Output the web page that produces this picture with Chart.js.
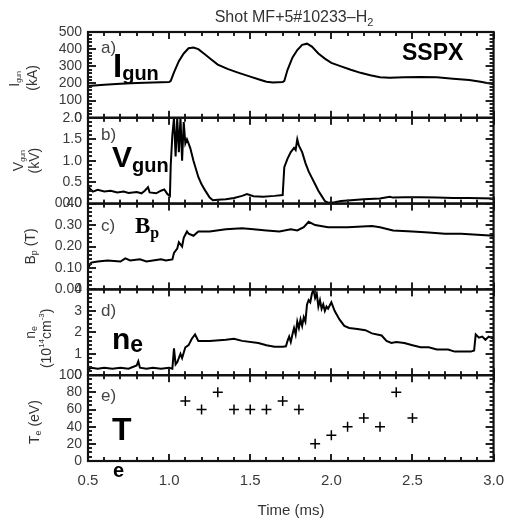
<!DOCTYPE html>
<html><head><meta charset="utf-8">
<script src="https://cdn.jsdelivr.net/npm/chart.js@4/dist/chart.umd.min.js"></script>
<style>html,body{margin:0;padding:0;background:#fff;}#wrap{position:relative;width:515px;height:527px;}</style>
</head><body><div id="wrap"><canvas id="c" width="515" height="527"></canvas></div>
<script>
// ---- data ----
const xTicks = [0.5, 1.0, 1.5, 2.0, 2.5, 3.0];

const tA = [0.50,0.60,0.70,0.80,0.90,1.00,1.01,1.03,1.06,1.09,1.12,1.15,1.18,1.22,1.26,1.30,1.36,1.42,1.50,1.56,1.60,1.64,1.70,1.71,1.73,1.76,1.79,1.82,1.85,1.88,1.92,1.96,2.00,2.06,2.12,2.18,2.24,2.30,2.36,2.45,2.55,2.65,2.75,2.85,2.92,3.00];
const iGun = [185,192,198,203,206,208,215,265,330,375,405,410,400,370,340,310,285,265,240,222,210,206,208,215,280,350,395,425,432,415,375,345,320,300,280,262,248,236,234,236,238,236,228,220,210,195];

const tB = [0.50,0.51,0.53,0.56,0.60,0.64,0.68,0.72,0.75,0.80,0.83,0.85,0.87,0.88,0.92,0.95,0.97,0.99,1.005,1.01,1.02,1.03,1.04,1.05,1.06,1.07,1.08,1.09,1.10,1.11,1.13,1.15,1.18,1.20,1.22,1.25,1.27,1.30,1.35,1.40,1.45,1.48,1.52,1.58,1.65,1.70,1.71,1.73,1.75,1.77,1.78,1.79,1.80,1.82,1.84,1.86,1.88,1.90,1.92,1.94,1.96,1.98,2.02,2.06,2.12,2.20,2.30,2.36,2.38,2.45,2.55,2.65,2.75,2.85,3.00];
const vGun = [0.45,0.35,0.28,0.32,0.28,0.30,0.26,0.28,0.25,0.27,0.24,0.30,0.38,0.26,0.24,0.30,0.33,0.22,0.18,0.9,1.6,2.0,1.1,2.0,1.2,2.0,1.0,1.9,1.4,1.5,1.3,1.0,0.62,0.45,0.32,0.14,0.08,0.09,0.10,0.13,0.18,0.22,0.17,0.16,0.18,0.20,0.85,1.05,1.2,1.3,1.25,1.5,1.35,1.2,0.95,0.75,0.6,0.45,0.3,0.18,0.06,0.02,0.03,0.06,0.08,0.10,0.12,0.16,0.14,0.15,0.15,0.14,0.13,0.13,0.12];

const tC = [0.50,0.52,0.56,0.62,0.70,0.73,0.76,0.82,0.86,0.90,0.95,0.98,1.02,1.03,1.05,1.06,1.08,1.09,1.11,1.12,1.15,1.18,1.25,1.35,1.45,1.52,1.60,1.68,1.75,1.79,1.83,1.86,1.90,1.98,2.10,2.25,2.30,2.38,2.50,2.60,2.70,2.80,2.90,3.00];
const bP = [0.10,0.125,0.13,0.135,0.13,0.145,0.135,0.14,0.13,0.135,0.14,0.135,0.14,0.17,0.19,0.22,0.20,0.24,0.27,0.26,0.25,0.27,0.27,0.28,0.285,0.28,0.275,0.27,0.28,0.275,0.29,0.315,0.30,0.29,0.29,0.295,0.29,0.275,0.27,0.265,0.26,0.26,0.255,0.25];

const tD = [0.50,0.52,0.56,0.60,0.65,0.70,0.75,0.80,0.81,0.82,0.86,0.90,0.95,1.00,1.02,1.03,1.04,1.05,1.07,1.08,1.10,1.12,1.14,1.16,1.18,1.25,1.35,1.40,1.45,1.55,1.60,1.65,1.70,1.72,1.73,1.74,1.75,1.76,1.77,1.78,1.79,1.80,1.81,1.82,1.83,1.84,1.85,1.86,1.87,1.88,1.89,1.90,1.91,1.92,1.93,1.94,1.95,1.96,1.97,1.98,2.00,2.02,2.05,2.08,2.11,2.16,2.21,2.25,2.31,2.34,2.37,2.40,2.45,2.50,2.55,2.60,2.65,2.72,2.76,2.86,2.88,2.89,2.91,2.93,2.95,2.97,3.00];
const nE = [0.25,0.35,0.3,0.35,0.3,0.35,0.3,0.45,0.65,0.35,0.3,0.35,0.3,0.35,0.3,1.25,0.5,0.6,1.0,0.8,1.3,1.4,1.7,1.9,1.6,1.6,1.65,1.7,1.6,1.5,1.4,1.33,1.33,1.35,1.6,1.8,1.55,1.9,2.2,1.9,2.5,2.2,2.6,2.3,2.7,2.5,3.3,3.5,3.4,3.8,4.0,3.6,3.8,3.2,3.5,3.1,3.3,3.0,3.2,3.1,3.4,3.0,2.6,2.3,2.2,2.15,2.1,1.95,1.85,1.6,1.5,1.55,1.5,1.4,1.3,1.3,1.2,1.2,1.1,1.1,1.15,1.9,1.75,1.8,1.65,1.8,1.7];

const tE = [1.1,1.2,1.3,1.4,1.5,1.6,1.7,1.8,1.9,2.0,2.1,2.2,2.3,2.4,2.5];
const tempE = [70,60,80,60,60,60,70,60,20,30,40,50,40,80,50];

// ---- helpers ----
const pts = (t, v) => t.map((x, i) => ({x, y: v[i]}));
const SANS = '"Liberation Sans", Arial, Helvetica, sans-serif';
const SERIF = '"Liberation Serif", "Times New Roman", serif';
const TICKC = '#3a3a3a';

const panels = [
  {id:'yA', min:0, max:500, step:100, minor:20, fmt:v=>String(Math.round(v))},
  {id:'yB', min:0, max:2, step:0.5, minor:0.1, fmt:v=>v.toFixed(1)},
  {id:'yC', min:0, max:0.4, step:0.1, minor:0.02, fmt:v=>v.toFixed(2)},
  {id:'yD', min:0, max:4, step:1, minor:0.2, fmt:v=>String(Math.round(v))},
  {id:'yE', min:0, max:100, step:20, minor:5, fmt:v=>String(Math.round(v))}
];

function mkY(p) {
  return {
    type:'linear', position:'left', stack:'panels', stackWeight:1,
    min:p.min, max:p.max,
    grid:{display:false, drawTicks:false}, border:{display:false},
    ticks:{stepSize:p.step, autoSkip:false, color:TICKC, padding:6,
      font:{family:SANS, size:14}, callback:v=>p.fmt(v)},
    afterFit: s => { s.width = 88; }
  };
}

function rich(ctx, parts, x, y, align) {
  let w = 0;
  parts.forEach(p => { ctx.font = p[1]; w += ctx.measureText(p[0]).width; });
  let cx = align === 'center' ? x - w / 2 : x;
  parts.forEach(p => { ctx.font = p[1]; ctx.fillText(p[0], cx, y + (p[2] || 0)); cx += ctx.measureText(p[0]).width; });
}

function vrich(ctx, parts, x, y) {
  ctx.save();
  ctx.translate(x, y);
  ctx.rotate(-Math.PI / 2);
  ctx.textBaseline = 'middle';
  rich(ctx, parts, 0, 0, 'center');
  ctx.restore();
}

const decor = {
  id:'decor',
  afterDraw(chart) {
    const ctx = chart.ctx;
    const xs = chart.scales.x;
    const L = chart.chartArea.left, R = chart.chartArea.right;
    ctx.save();
    ctx.textAlign = 'left';
    // frames and inward ticks
    panels.forEach(p => {
      const s = chart.scales[p.id];
      const T = s.top, B = s.bottom;
      ctx.fillStyle = '#222';
      const nMinor = Math.round((p.max - p.min) / p.minor);
      const per = Math.round(p.step / p.minor);
      for (let i = 0; i <= nMinor; i++) {
        const v = p.min + i * p.minor;
        const y = Math.round(s.getPixelForValue(v));
        const len = (i % per === 0) ? 8 : 4;
        ctx.fillRect(L, y - 1, len, 2);
        ctx.fillRect(R - len, y - 1, len, 2);
      }
      for (let i = 0; i <= 25; i++) {
        const v = 0.5 + i * 0.1;
        const x = Math.round(xs.getPixelForValue(v));
        const len = (i % 5 === 0) ? 7 : 4;
        ctx.fillRect(x - 1, T, 2, len);
        ctx.fillRect(x - 1, B - len, 2, len);
      }
      ctx.lineWidth = 2.2;
      ctx.strokeStyle = '#111';
      ctx.strokeRect(L, T, R - L, B - T);
    });

    // title
    ctx.fillStyle = '#333';
    ctx.textBaseline = 'alphabetic';
    rich(ctx, [['Shot MF+5#10233\u2013H', '16px ' + SANS], ['2', '11px ' + SANS, 4]], 294, 22, 'center');
    // x axis title
    rich(ctx, [['Time (ms)', '15px ' + SANS]], 291, 515, 'center');

    // y axis titles
    const yc = id => (chart.scales[id].top + chart.scales[id].bottom) / 2;
    vrich(ctx, [['I', '14px ' + SANS], ['gun', '7px ' + SANS, 4]], 15, yc('yA') + 4);
    vrich(ctx, [['(kA)', '14px ' + SANS]], 33, yc('yA') + 3);
    vrich(ctx, [['V', '14px ' + SANS], ['gun', '7px ' + SANS, 4]], 19, yc('yB'));
    vrich(ctx, [['(kV)', '14px ' + SANS]], 35, yc('yB'));
    vrich(ctx, [['B', '14px ' + SANS], ['p', '9px ' + SANS, 4], [' (T)', '14px ' + SANS]], 31, yc('yC'));
    vrich(ctx, [['n', '14px ' + SANS], ['e', '9px ' + SANS, 4]], 31, yc('yD'));
    vrich(ctx, [['(10', '14px ' + SANS], ['14', '8px ' + SANS, -5], ['cm', '14px ' + SANS], ['-3', '8px ' + SANS, -5], [')', '14px ' + SANS]], 47, yc('yD') + 6);
    vrich(ctx, [['T', '14px ' + SANS], ['e', '9px ' + SANS, 4], [' (eV)', '14px ' + SANS]], 35, yc('yE') + 4);

    // panel letters
    ctx.fillStyle = '#444';
    const pl = ['a)', 'b)', 'c)', 'd)', 'e)'];
    const pb = [53, 140, 231, 316, 401];
    pl.forEach((t, i) => rich(ctx, [[t, '17px ' + SANS]], 101, pb[i], 'left'));

    // big annotations
    ctx.fillStyle = '#000';
    rich(ctx, [['I', 'bold 33px ' + SANS], ['gun', 'bold 20px ' + SANS, 3]], 113, 77, 'left');
    rich(ctx, [['SSPX', 'bold 23px ' + SANS]], 402, 60, 'left');
    rich(ctx, [['V', 'bold 30px ' + SANS], ['gun', 'bold 20px ' + SANS, 5]], 112, 167, 'left');
    rich(ctx, [['B', 'bold 23px ' + SERIF], ['p', 'bold 16px ' + SERIF, 5]], 135, 233, 'left');
    rich(ctx, [['n', 'bold 30px ' + SANS], ['e', 'bold 23px ' + SANS, 3]], 112, 349, 'left');
    rich(ctx, [['T', 'bold 32px ' + SANS]], 112, 440, 'left');
    rich(ctx, [['e', 'bold 20px ' + SANS]], 113, 477, 'left');
    ctx.restore();
  }
};

const line = (data, yAxisID) => ({type:'line', data, yAxisID, borderColor:'#000', borderWidth:2,
  pointRadius:0, tension:0, fill:false});

const scales = {
  x: {type:'linear', min:0.5, max:3.0,
    grid:{display:false, drawTicks:false}, border:{display:false},
    ticks:{stepSize:0.5, color:TICKC, padding:11, font:{family:SANS, size:15}, callback:v=>v.toFixed(1)},
    afterFit: s => { s.height = 66; }
  }
};
// defined bottom to top
[4,3,2,1,0].forEach(i => { scales[panels[i].id] = mkY(panels[i]); });

new Chart(document.getElementById('c'), {
  data: {
    datasets: [
      line(pts(tA, iGun), 'yA'),
      line(pts(tB, vGun), 'yB'),
      line(pts(tC, bP), 'yC'),
      line(pts(tD, nE), 'yD'),
      {type:'scatter', data: pts(tE, tempE), yAxisID:'yE', pointStyle:'cross', pointRadius:5,
        borderColor:'#000', backgroundColor:'#000', borderWidth:1.5}
    ]
  },
  options: {
    responsive:false, animation:false, devicePixelRatio:1,
    layout:{padding:{left:0, right:15, top:32, bottom:0}},
    plugins:{legend:{display:false}, tooltip:{enabled:false}, title:{display:false}},
    scales
  },
  plugins:[decor]
});
</script>
</body></html>
